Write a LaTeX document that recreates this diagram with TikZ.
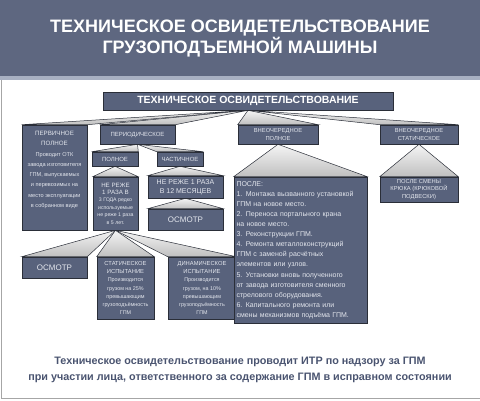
\documentclass[tikz,border=0pt]{standalone}
\usepackage{fontspec}
\setmainfont{Liberation Sans}
\usetikzlibrary{positioning, backgrounds}

\definecolor{headblue}{HTML}{5E6780}
\definecolor{stripblue}{HTML}{A8B0C2}
\definecolor{boxblue}{HTML}{58627C}
\definecolor{boxline}{HTML}{2A2E38}
\definecolor{boxtext}{HTML}{E4E7EE}
\definecolor{foottext}{HTML}{4A5470}

\newcommand{\fsz}[2]{\fontsize{#1}{#2}\selectfont}

\begin{document}
\begin{tikzpicture}[
  x=1pt, y=-1pt,
  font=\fsz{6}{7.5},
  box/.style={draw=boxline, line width=0.6pt, fill=boxblue, text=boxtext, inner sep=1pt, align=center},
  fan/.style={draw=boxline, line width=0.5pt, top color=gray!8, bottom color=gray!50},
]
\useasboundingbox (0,0) rectangle (480,400);

% Header band
\fill[headblue] (0,0) rectangle (480,76);
\fill[stripblue] (0,76) rectangle (480,80);
\node[text=white, font=\fsz{18}{19}\bfseries, align=center] (title) at (240,38.5)
  {ТЕХНИЧЕСКОЕ ОСВИДЕТЕЛЬСТВОВАНИЕ\\ГРУЗОПОДЪЕМНОЙ МАШИНЫ};
\draw[gray!70, line width=1pt] (1.5,80) -- (1.5,398.5) -- (480,398.5);

% Top block
\node[box, minimum width=290pt, minimum height=18pt, font=\fsz{10.5}{12}\bfseries, text=white] (main) at (248,101)
  {ТЕХНИЧЕСКОЕ ОСВИДЕТЕЛЬСТВОВАНИЕ};

% Second row
\node[box, minimum width=65pt, minimum height=105pt, font=\fsz{5.6}{10.3}] (perv) at (54.5,177.5)
  {{\fsz{6.2}{10.3}ПЕРВИЧНОЕ}\\{\fsz{6.2}{10.3}ПОЛНОЕ}\\Проводит ОТК\\завода изготовителя\\ГПМ, выпускаемых\\и перевозимых на\\место эксплуатации\\в собранном виде\\[6pt]\mbox{}};
\node[box, minimum width=75pt, minimum height=19pt] (period) at (137.5,134.5) {ПЕРИОДИЧЕСКОЕ};
\node[box, minimum width=80pt, minimum height=19pt, font=\fsz{5.8}{8}] (vnp) at (278,134.5) {ВНЕОЧЕРЕДНОЕ\\ПОЛНОЕ};
\node[box, minimum width=78pt, minimum height=19pt, font=\fsz{5.8}{8}] (vns) at (419,134.5) {ВНЕОЧЕРЕДНОЕ\\СТАТИЧЕСКОЕ};

% Periodic branch
\node[box, minimum width=46pt, minimum height=14pt] (polnoe) at (115,159) {ПОЛНОЕ};
\node[box, minimum width=46pt, minimum height=14pt] (chast) at (180,159) {ЧАСТИЧНОЕ};
\node[box, minimum width=45pt, minimum height=53pt, font=\fsz{5.2}{7.4}] (three) at (115.5,203.5)
  {{\fsz{6.2}{7.4}НЕ РЕЖЕ}\\{\fsz{6.2}{7.4}1 РАЗА В}\\3 ГОДА редко\\используемые\\не реже 1 раза\\в 5 лет.};
\node[box, minimum width=75pt, minimum height=22pt, font=\fsz{7}{9}] (twelve) at (185.5,187) {НЕ РЕЖЕ 1 РАЗА\\В 12 МЕСЯЦЕВ};
\node[box, minimum width=75pt, minimum height=21pt, font=\fsz{8}{9}] (osmR) at (185.5,219.5) {ОСМОТР};

% Full periodic checks
\node[box, minimum width=65pt, minimum height=21pt, font=\fsz{8}{9}] (osmL) at (54.5,267.5) {ОСМОТР};
\node[box, minimum width=57pt, minimum height=62pt, font=\fsz{5.4}{8.2}] (stat) at (125.5,288)
  {{\fsz{5.8}{8.2}СТАТИЧЕСКОЕ}\\{\fsz{5.8}{8.2}ИСПЫТАНИЕ}\\Производится\\грузом на 25\%\\превышающим\\грузоподъёмность\\ГПМ};
\node[box, minimum width=68pt, minimum height=62pt, font=\fsz{5.4}{8.2}] (dyn) at (202,288)
  {{\fsz{5.8}{8.2}ДИНАМИЧЕСКОЕ}\\{\fsz{5.8}{8.2}ИСПЫТАНИЕ}\\Производится\\грузом, на 10\%\\превышающим\\грузоподъёмность\\ГПМ};

% Unscheduled checks
\node[box, minimum width=133pt, minimum height=146pt, text width=128pt, align=left, font=\fsz{7}{10.1}] (posle) at (300.5,250)
  {ПОСЛЕ:\\
   1. Монтажа вызванного установкой\\
   ГПМ на новое место.\\
   2. Переноса портального крана\\
   на новое место.\\
   3. Реконструкции ГПМ.\\
   4. Ремонта металлоконструкций\\
   ГПМ с заменой расчётных\\
   элементов или узлов.\\
   5. Установки вновь полученного\\
   от завода изготовителя сменного\\
   стрелового оборудования.\\
   6. Капитального ремонта или\\
   смены механизмов подъёма ГПМ.};
\node[box, minimum width=78pt, minimum height=25pt, font=\fsz{5.8}{7.6}] (kryuk) at (419,189.5)
  {ПОСЛЕ СМЕНЫ\\КРЮКА (КРЮКОВОЙ\\ПОДВЕСКИ)};

% Fans behind the blocks
\begin{scope}[on background layer]
  \foreach \dst in {perv, period, vnp, vns}
    \path[fan] (main.south) -- (\dst.north west) -- (\dst.north east) -- cycle;
  \foreach \dst in {polnoe, chast}
    \path[fan] (period.south) -- (\dst.north west) -- (\dst.north east) -- cycle;
  \path[fan] (polnoe.south) -- (three.north west) -- (three.north east) -- cycle;
  \path[fan] (chast.south) -- (twelve.north west) -- (twelve.north east) -- cycle;
  \path[fan] (twelve.south) -- (osmR.north west) -- (osmR.north east) -- cycle;
  \foreach \dst in {osmL, stat, dyn}
    \path[fan] (three.south) -- (\dst.north west) -- (\dst.north east) -- cycle;
  \path[fan] (vnp.south) -- (posle.north west) -- (posle.north east) -- cycle;
  \path[fan] (vns.south) -- (kryuk.north west) -- (kryuk.north east) -- cycle;
\end{scope}

% Footer note
\node[text=foottext, font=\fsz{10.8}{16}\bfseries, align=center] (note) at (240,370)
  {Техническое освидетельствование проводит ИТР по надзору за ГПМ\\
   при участии лица, ответственного за содержание ГПМ в исправном состоянии};

\end{tikzpicture}
\end{document}
